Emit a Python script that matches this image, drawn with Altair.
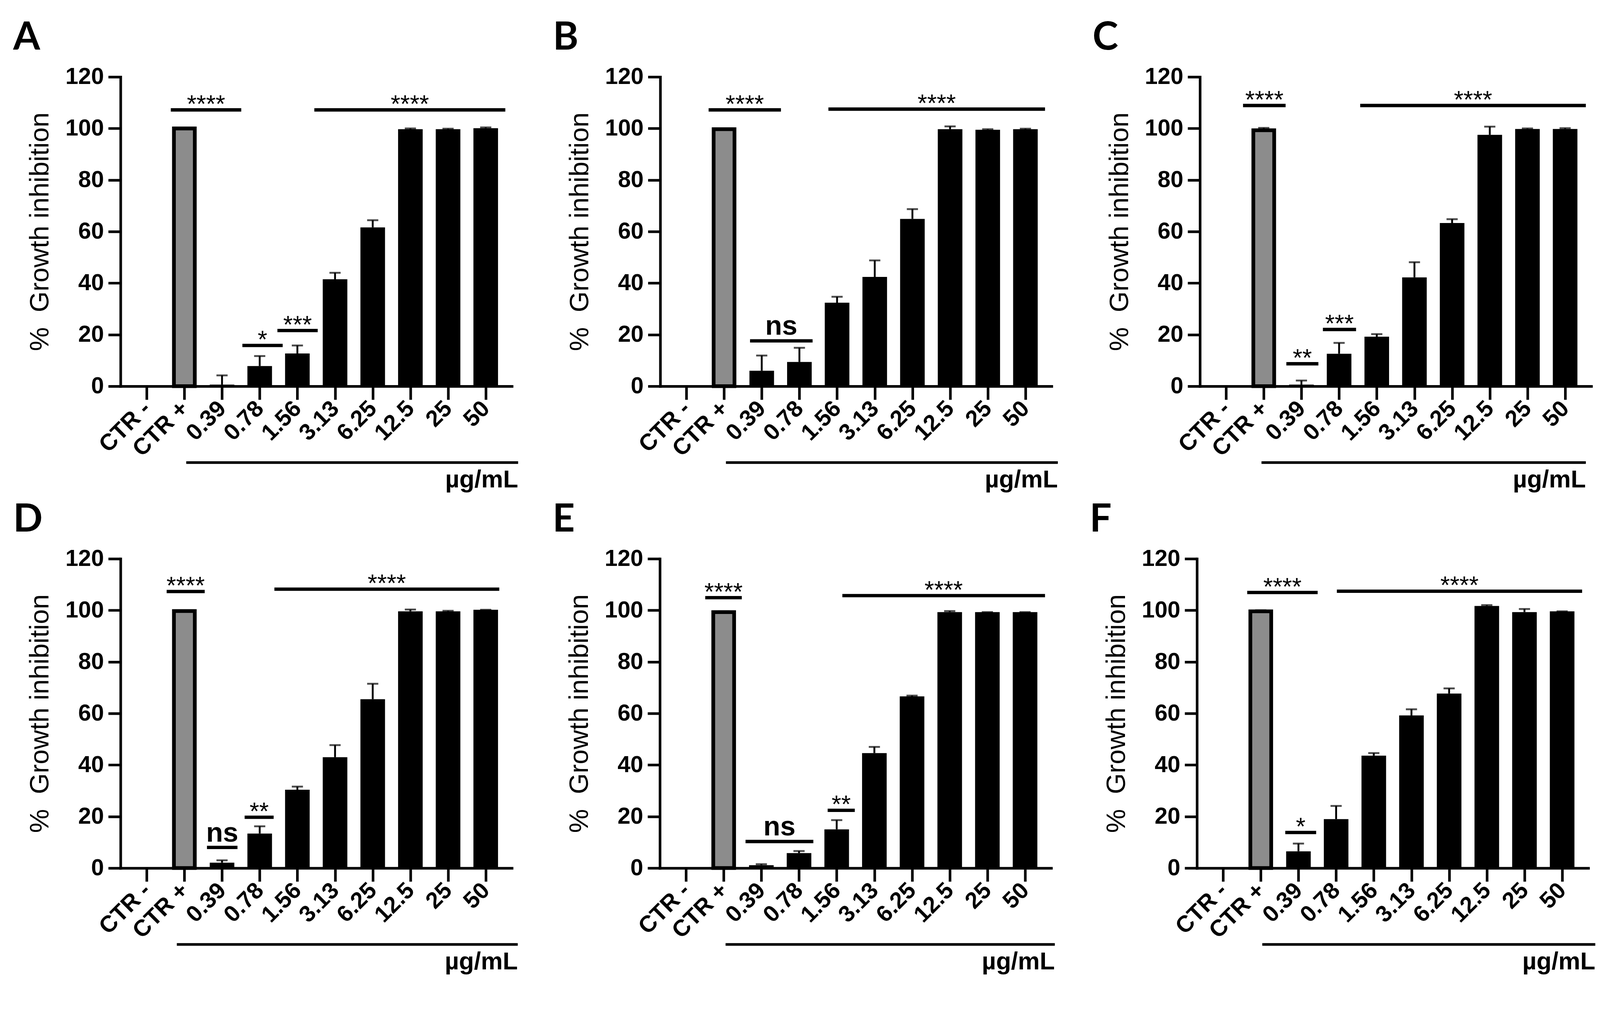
import json

import altair as alt
import pandas as pd

categories = ["CTR -", "CTR +", "0.39", "0.78", "1.56", "3.13", "6.25", "12.5", "25", "50"]

mean_A = [0, 100.0, 0.6, 7.8, 12.7, 41.5, 61.6, 99.7, 99.7, 100.1]
sd_A = [0, 0.2, 3.6, 3.9, 3.1, 2.5, 2.8, 0.3, 0.2, 0.3]
mean_B = [0, 99.7, 6.0, 9.4, 32.4, 42.4, 64.9, 99.7, 99.5, 99.7]
sd_B = [0, 0.3, 5.9, 5.5, 2.3, 6.4, 3.8, 1.1, 0.2, 0.2]
mean_C = [0, 99.3, 0.6, 12.6, 19.2, 42.2, 63.3, 97.5, 99.8, 99.8]
sd_C = [0, 0.9, 1.6, 4.2, 1.0, 5.9, 1.5, 3.2, 0.2, 0.3]
mean_D = [0, 99.7, 2.1, 13.4, 30.4, 43.0, 65.5, 99.6, 99.6, 100.2]
sd_D = [0, 0.3, 0.9, 2.8, 1.2, 4.7, 6.0, 0.7, 0.2, 0.0]
mean_E = [0, 99.3, 1.1, 5.8, 15.0, 44.6, 66.6, 99.3, 99.3, 99.3]
sd_E = [0, 0.3, 0.4, 0.8, 3.6, 2.4, 0.3, 0.4, 0.0, 0.0]
mean_F = [0, 99.6, 6.5, 19.0, 43.6, 59.2, 67.7, 101.7, 99.3, 99.6]
sd_F = [0, 0.4, 3.0, 5.1, 1.0, 2.4, 2.0, 0.3, 1.2, 0.0]

# significance bars: (from, to) in category index units, level in %, label
sig_A = [(0.64, 2.51, 107.2, "****"), (4.45, 9.52, 107.2, "****"),
         (2.54, 3.61, 15.8, "*"), (3.47, 4.54, 21.6, "***")]
sig_B = [(0.59, 2.51, 107.2, "****"), (3.77, 9.52, 107.5, "****"),
         (1.69, 3.35, 17.6, "ns")]
sig_C = [(0.45, 1.58, 108.9, "****"), (3.56, 9.55, 108.9, "****"),
         (1.60, 2.45, 8.7, "**"), (2.57, 3.45, 22.0, "***")]
sig_D = [(0.53, 1.54, 107.3, "****"), (3.39, 9.36, 108.2, "****"),
         (1.60, 2.41, 8.0, "ns"), (2.60, 3.37, 19.7, "**")]
sig_E = [(0.51, 1.48, 104.9, "****"), (4.15, 9.53, 105.7, "****"),
         (1.58, 3.38, 10.3, "ns"), (3.76, 4.48, 22.4, "**")]
sig_F = [(0.64, 2.51, 106.9, "****"), (3.02, 9.53, 107.4, "****"),
         (1.65, 2.47, 13.8, "*")]

# concentration line under the tick labels (category index units)
conc_A = (1.05, 9.86)
conc_B = (1.05, 9.86)
conc_C = (0.94, 9.55)
conc_D = (0.80, 9.85)
conc_E = (1.05, 9.79)
conc_F = (1.04, 9.88)

W, H = 1050, 830
FONT = "Liberation Sans"

xs = alt.Scale(domain=[-0.645, 9.645], nice=False, zero=False)
ys = alt.Scale(domain=[0, 120], nice=False)

x_axis = alt.Axis(
    values=list(range(len(categories))),
    labelExpr=f"{json.dumps(categories)}[datum.value]",
    title=None, grid=False, labelAngle=-45, labelAlign="right",
    labelBaseline="middle", labelFont=FONT, labelFontSize=62,
    labelFontWeight="bold", labelColor="black", labelPadding=14,
    labelOverlap=False, labelBound=False, labelLimit=0,
    tickSize=36, tickWidth=7, tickColor="black",
    domainWidth=7, domainColor="black", domainCap="square",
)
y_axis = alt.Axis(
    values=[0, 20, 40, 60, 80, 100, 120], title="% \u00a0Growth inhibition",
    grid=False, labelFont=FONT, labelFontSize=62, labelFontWeight="bold",
    labelColor="black", labelPadding=12, labelOverlap=False, tickSize=33,
    tickWidth=7, tickColor="black", domainWidth=7, domainColor="black",
    domainCap="square", titleFont=FONT, titleFontSize=72,
    titleFontWeight="normal", titleColor="black", titlePadding=30,
)


def X(field):
    return alt.X(field, scale=xs, axis=x_axis)


def Y(field):
    return alt.Y(field, scale=ys, axis=y_axis)


def panel(letter, means, sds, sigs, conc):
    df = pd.DataFrame({"cat": categories, "idx": range(len(categories)),
                       "mean": means, "sd": sds})
    df["upper"] = df["mean"] + df["sd"]
    base = alt.Chart(df)

    solid = base.transform_filter(alt.datum.cat != "CTR +").mark_bar(
        width=66, color="black").encode(x=X("idx:Q"), y=Y("mean:Q"))
    positive = base.transform_filter(alt.datum.cat == "CTR +").mark_bar(
        width=56, fill="#8c8c8c", stroke="black", strokeWidth=10
    ).encode(x=X("idx:Q"), y=Y("mean:Q"))
    err = base.transform_filter(alt.datum.mean > 0).mark_rule(
        strokeWidth=5, color="black"
    ).encode(x=X("idx:Q"), y=Y("mean:Q"), y2="upper:Q")
    cap = base.transform_filter(alt.datum.mean > 0).mark_tick(
        orient="horizontal", size=30, thickness=5, color="black"
    ).encode(x=X("idx:Q"), y=Y("upper:Q"))

    sig = pd.DataFrame(sigs, columns=["x0", "x1", "level", "label"])
    sbase = alt.Chart(sig).transform_calculate(mid="(datum.x0 + datum.x1) / 2")
    lines = alt.Chart(sig).mark_rule(strokeWidth=9, color="black").encode(
        x=X("x0:Q"), x2="x1:Q", y=Y("level:Q"))
    stars = sbase.transform_filter(alt.datum.label != "ns").mark_text(
        font=FONT, fontSize=66, color="black", baseline="alphabetic", dy=6
    ).encode(x=X("mid:Q"), y=Y("level:Q"), text="label:N")
    ns = sbase.transform_filter(alt.datum.label == "ns").mark_text(
        font=FONT, fontSize=74, fontWeight="bold", color="black",
        baseline="alphabetic", dy=-16
    ).encode(x=X("mid:Q"), y=Y("level:Q"), text="label:N")

    unit = pd.DataFrame({"x0": [conc[0]], "x1": [conc[1]], "unit": ["µg/mL"]})
    uline = alt.Chart(unit).mark_rule(strokeWidth=7, color="black").encode(
        x=X("x0:Q"), x2="x1:Q", y=alt.value(H + 205))
    utext = alt.Chart(unit).mark_text(
        font=FONT, fontSize=66, fontWeight="bold", color="black",
        align="right", baseline="alphabetic"
    ).encode(x=X("x1:Q"), y=alt.value(H + 272), text="unit:N")

    return alt.layer(solid, positive, err, cap, lines, stars, ns, uline, utext).properties(
        width=W, height=H,
        title=alt.TitleParams(letter, anchor="start", frame="group", dx=-288,
                              offset=20, font="Lato", fontSize=104,
                              fontWeight="bold", color="black"),
    )


row1 = alt.hconcat(
    panel("A", mean_A, sd_A, sig_A, conc_A),
    panel("B", mean_B, sd_B, sig_B, conc_B),
    panel("C", mean_C, sd_C, sig_C, conc_C),
    spacing=89,
)
row2 = alt.hconcat(
    panel("D", mean_D, sd_D, sig_D, conc_D),
    panel("E", mean_E, sd_E, sig_E, conc_E),
    panel("F", mean_F, sd_F, sig_F, conc_F),
    spacing=89,
)

chart = alt.vconcat(row1, row2, spacing=22).properties(
    padding={"left": 27, "top": -18, "right": 0, "bottom": -50},
    background="white",
).configure_view(stroke=None)

chart.save("out.html", embed_options={"renderer": "svg", "actions": False})
